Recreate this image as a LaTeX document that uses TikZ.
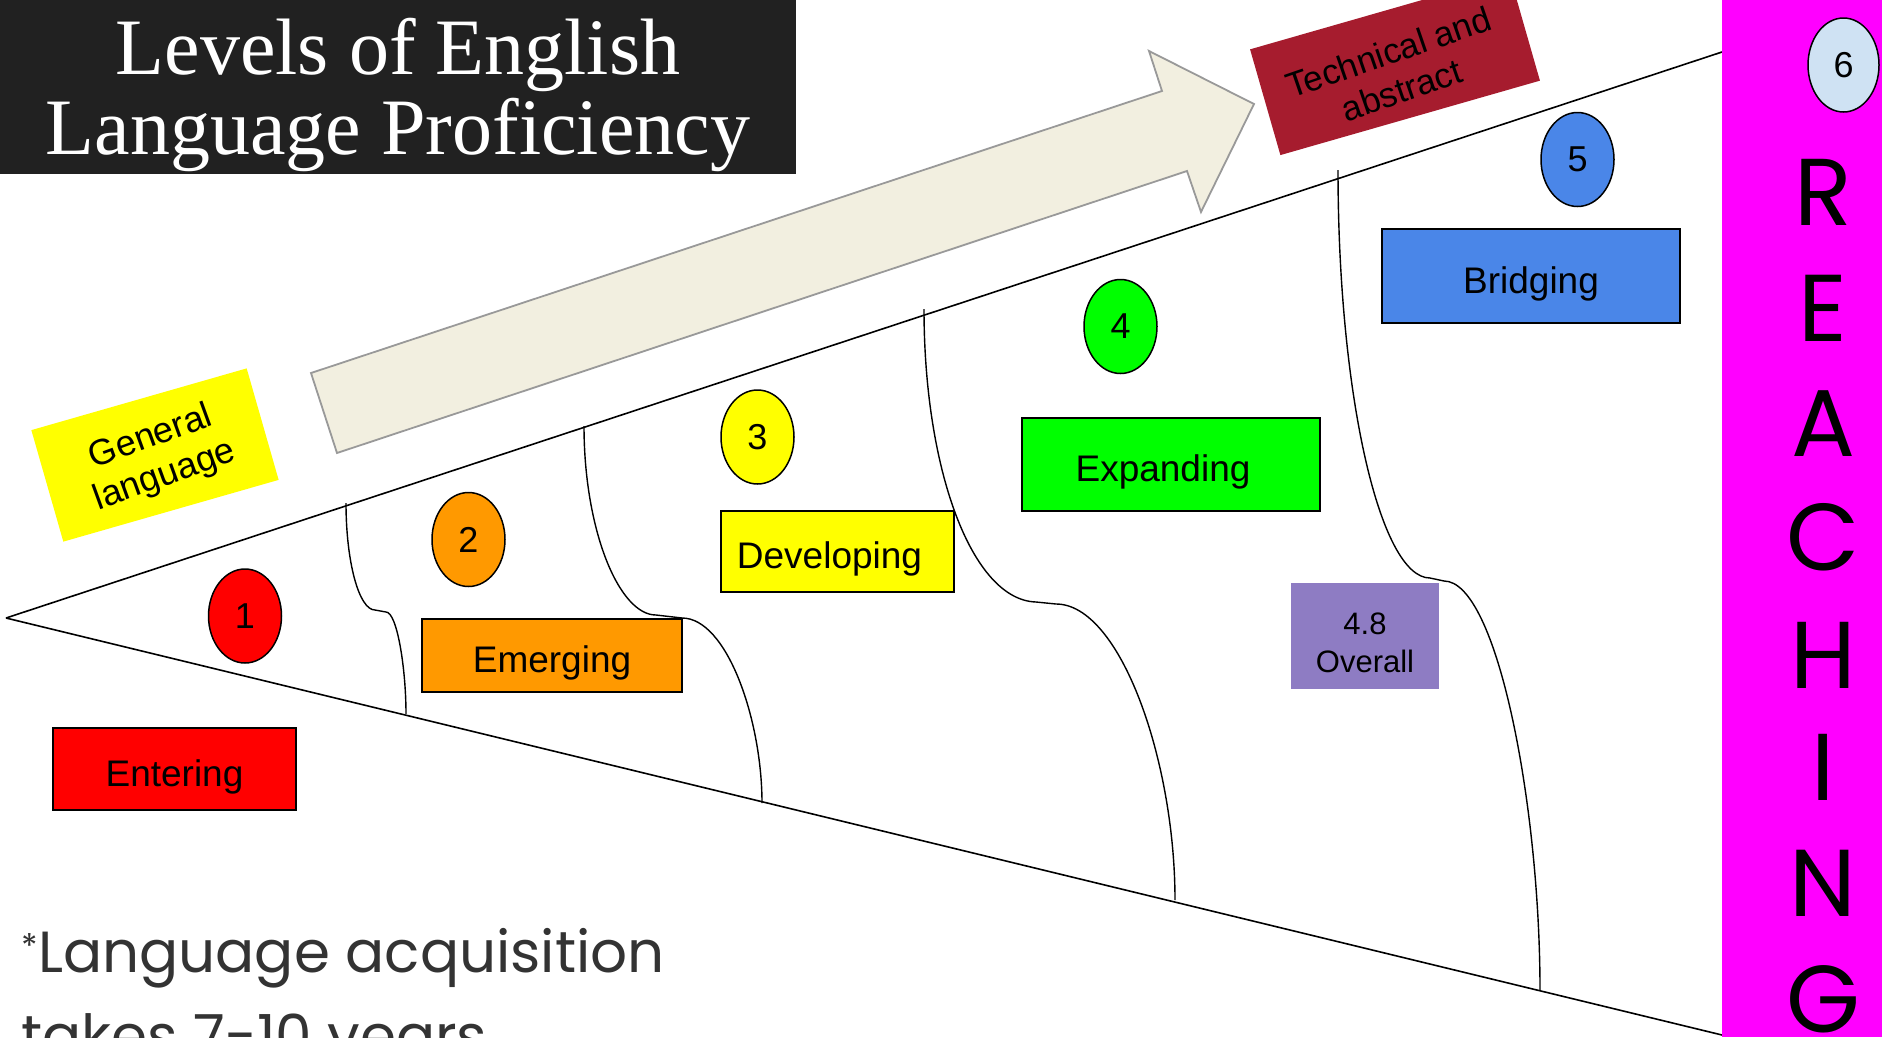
\documentclass[tikz,border=0pt]{standalone}
\usepackage{fontspec}
\setmainfont{Liberation Sans}
\newfontfamily\headfont{Liberation Serif}
\newfontfamily\geofont{Poppins}
\usetikzlibrary{shapes.geometric, positioning}

\definecolor{titlebg}{HTML}{212121}
\definecolor{notegray}{HTML}{333333}
\definecolor{arrowfill}{HTML}{F2EFE0}
\definecolor{arrowline}{HTML}{999999}
\definecolor{lvlred}{HTML}{FF0000}
\definecolor{lvlorange}{HTML}{FF9900}
\definecolor{lvlyellow}{HTML}{FFFF00}
\definecolor{lvlgreen}{HTML}{00FF00}
\definecolor{lvlblue}{HTML}{4A86E8}
\definecolor{lvlsky}{HTML}{CFE2F3}
\definecolor{overall}{HTML}{8E7CC3}
\definecolor{techred}{HTML}{A61C2E}
\definecolor{band}{HTML}{FF00FF}

\begin{document}
\begin{tikzpicture}[x=1pt, y=-1pt,
    level/.style={draw, line width=1.5pt, inner sep=0pt, text height=34pt, text depth=0pt, font=\fontsize{37}{40}\selectfont},
    num/.style={ellipse, draw, line width=1.5pt, minimum width=73, minimum height=94, inner sep=0pt, font=\fontsize{36}{40}\selectfont},
    tag/.style={inner sep=0pt, align=center, font=\fontsize{36}{41}\selectfont},
    reach/.style={anchor=base, font=\geofont\fontsize{95}{95}\selectfont},
    note/.style={anchor=base west, text=notegray, font=\geofont\fontsize{58}{58}\selectfont},
    wedge/.style={line width=1.6pt},
    divider/.style={line width=1.4pt}
]
    \useasboundingbox (0,0) rectangle (1882,1037);
    \clip (0,0) rectangle (1882,1037);

    \node[fill=titlebg, minimum width=796, minimum height=174, inner sep=0pt, anchor=north west] (ttl) at (0,0) {};
    \node[anchor=base, text=white, font=\headfont\fontsize{80}{80}\selectfont] (ttl1) at (398,74) {Levels of English};
    \node[anchor=base, text=white, font=\headfont\fontsize{80}{80}\selectfont] (ttl2) at (398,154) {Language Proficiency};

    \coordinate (a1) at (311,373);
    \coordinate (a2) at (1162,91);
    \coordinate (a3) at (1149,51);
    \coordinate (a4) at (1254,104);
    \coordinate (a5) at (1201,212);
    \coordinate (a6) at (1187,171);
    \coordinate (a7) at (337,453);
    \draw[fill=arrowfill, draw=arrowline, line width=1.8pt, line join=miter] (a1) -- (a2) -- (a3) -- (a4) -- (a5) -- (a6) -- (a7) -- cycle;

    \node[fill=lvlyellow, rotate=16, minimum width=224, minimum height=116, inner sep=0pt] (gen) at (155,455) {};
    \node[tag, rotate=20] (gentxt) at ([xshift=3pt, yshift=-2pt]gen.center) {General\\language};
    \node[fill=techred, rotate=16, minimum width=270, minimum height=110, inner sep=0pt] (tech) at (1395,65) {};
    \node[tag, rotate=19, font=\fontsize{35}{40}\selectfont] (techtxt) at ([yshift=-6pt]tech.center) {Technical and\\abstract};

    \coordinate (apex) at (6,618);
    \coordinate (topend) at (1722,52);
    \coordinate (lowend) at (1722,1035);
    \draw[wedge] (apex) -- (topend);
    \draw[wedge] (apex) -- (lowend);

    \draw[divider] (346,503) .. controls (346,562) and (359,610) .. (375,610) -- (386,612)
        .. controls (397,612) and (406,668) .. (406,714);
    \draw[divider] (584,426) .. controls (584,530) and (619,615) .. (656,615) -- (682,618)
        .. controls (727,618) and (762,720) .. (762,803);
    \draw[divider] (924,309) .. controls (924,470) and (972,600) .. (1036,602) -- (1056,604)
        .. controls (1120,604) and (1175,760) .. (1175,900);
    \draw[divider] (1338,170) .. controls (1338,395) and (1380,578) .. (1430,578) -- (1444,581)
        .. controls (1497,581) and (1540,805) .. (1540,990);

    \node[level, fill=lvlred, minimum width=243, minimum height=82] (ent) at (174.5,769) {Entering};
    \node[level, fill=lvlorange, minimum width=260, minimum height=73] (emg) at (552,655.5) {Emerging};
    \node[level, fill=lvlyellow, minimum width=233, minimum height=81] (dev) at (837.5,551.5) {\hspace*{-16pt}Developing};
    \node[level, fill=lvlgreen, minimum width=298, minimum height=93] (exp) at (1171,464.5) {\hspace*{-16pt}Expanding};
    \node[level, fill=lvlblue, minimum width=298, minimum height=94] (bri) at (1531,276) {Bridging};
    \node[fill=overall, minimum width=148, minimum height=106, inner sep=0pt] (ovr) at (1365,636) {};
    \node[align=center, inner sep=0pt, font=\fontsize{31}{38}\selectfont] (ovrtxt) at ([yshift=-7pt]ovr.center) {4.8\\Overall};

    \node[num, fill=lvlred] (n1) at (245,616) {1};
    \node[num, fill=lvlorange] (n2) at (468.5,539.5) {2};
    \node[num, fill=lvlyellow] (n3) at (757.5,437) {3};
    \node[num, fill=lvlgreen] (n4) at (1120.5,326.5) {4};
    \node[num, fill=lvlblue] (n5) at (1577.5,159.5) {5};

    \node[fill=band, minimum width=160, minimum height=1037, inner sep=0pt, anchor=north west] (bnd) at (1722,0) {};
    \node[num, fill=lvlsky, minimum width=71] (n6) at (1843.5,65) {6};
    \node[reach] (r1) at (1823,225) {R};
    \node[reach] (r2) at (1823,341) {E};
    \node[reach] (r3) at (1823,456) {A};
    \node[reach] (r4) at (1823,570) {C};
    \node[reach] (r5) at (1823,688) {H};
    \node[reach] (r6) at (1823,800) {I};
    \node[reach] (r7) at (1823,916) {N};
    \node[reach] (r8) at (1823,1032) {G};

    \node[note] (note1) at (18,972) {\raisebox{14pt}{\fontsize{34}{34}\selectfont *}Language acquisition};
    \node[note] (note2) at (18,1056) {takes 7-10 years};
\end{tikzpicture}
\end{document}
